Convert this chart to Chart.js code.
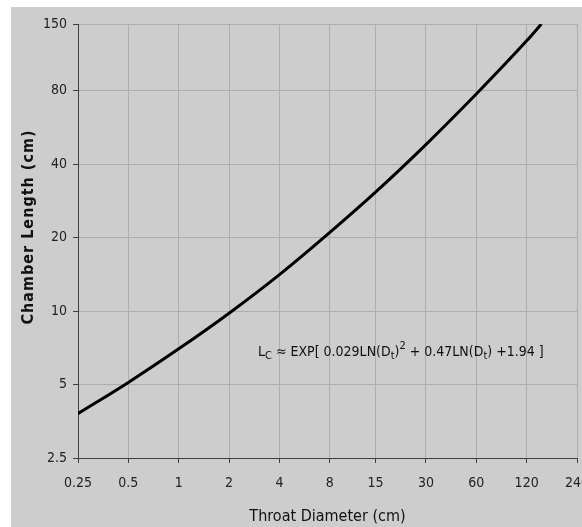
<!DOCTYPE html>
<html>
<head>
<meta charset="utf-8">
<script src="https://cdn.jsdelivr.net/npm/chart.js@4.4.1/dist/chart.umd.min.js"></script>
<style>
  html, body { margin: 0; padding: 0; background: #fff; overflow: hidden; }
  #wrap { position: absolute; left: 0; top: 0; width: 582px; height: 527px; }
</style>
</head>
<body>
<div id="wrap"><canvas id="myChart"></canvas></div>
<script>
// Data
const diameters = [0.25, 0.5, 1, 2, 4, 8, 15, 30, 60, 120, 147];
const lengths = [3.8, 5.1, 7.0, 9.8, 14.1, 21.0, 30.7, 48.1, 77.5, 128, 150];

// Tick labels
const xTicks = [0.25, 0.5, 1, 2, 4, 8, 15, 30, 60, 120, 240];
const yTicks = [2.5, 5, 10, 20, 40, 80, 150];

const FONT = "'DejaVu Sans Condensed', 'DejaVu Sans', sans-serif";
const GRID = "#adadad";
const AXIS = "#404040";

// grey panel, y title and the fitted equation
const decor = {
  id: "decor",
  beforeDraw(chart) {
    const c = chart.ctx;
    c.save();
    c.fillStyle = "#fff";
    c.fillRect(0, 0, chart.width, chart.height);
    c.fillStyle = "#cdcdcd";
    c.fillRect(11, 7, chart.width - 11, chart.height - 7);
    c.restore();
  },
  afterDraw(chart) {
    const c = chart.ctx;
    c.save();
    c.fillStyle = "#111";
    // y axis title
    c.translate(29, 227);
    c.rotate(-Math.PI / 2);
    c.font = "bold 16px " + FONT;
    c.letterSpacing = "1px";
    c.textAlign = "center";
    c.textBaseline = "middle";
    c.fillText("Chamber Length (cm)", 0, 0);
    c.restore();

    // equation
    c.save();
    c.fillStyle = "#111";
    c.textBaseline = "alphabetic";
    const big = "14px " + FONT, small = "11px " + FONT;
    const parts = [
      ["L", big, 0], ["C", small, 3], [" \u2248 EXP[ 0.029LN(D", big, 0], ["t", small, 3],
      [")", big, 0], ["2", small, -7], [" + 0.47LN(D", big, 0], ["t", small, 3],
      [") +1.94 ]", big, 0]
    ];
    let x = 258;
    const y = 356;
    for (const [t, f, dy] of parts) {
      c.font = f;
      c.fillText(t, x, y + dy);
      x += c.measureText(t).width;
    }
    c.restore();
  }
};

const ctx = document.getElementById("myChart").getContext("2d");
const myChart = new Chart(ctx, {
  type: "line",
  data: {
    datasets: [
      {
        data: diameters.map((d, i) => ({ x: d, y: lengths[i] })),
        borderColor: "#000",
        borderWidth: 3,
        pointRadius: 0,
        cubicInterpolationMode: "monotone",
        fill: false,
      },
    ],
  },
  options: {
    responsive: true,
    maintainAspectRatio: false,
    animation: false,
    layout: { padding: { left: 0, top: 24, right: 5, bottom: 0 } },
    plugins: {
      legend: { display: false },
      tooltip: { enabled: false },
    },
    scales: {
      x: {
        type: "logarithmic",
        min: 0.25,
        max: 240,
        afterBuildTicks: (s) => { s.ticks = xTicks.map((v) => ({ value: v })); },
        afterFit: (s) => { s.height = 69; s.paddingLeft = 0; s.paddingRight = 0; },
        ticks: {
          autoSkip: false,
          maxRotation: 0,
          padding: 12,
          color: "#222",
          font: { family: FONT, size: 14 },
          callback: (v) => String(v),
        },
        grid: { color: GRID, tickLength: 5, tickColor: AXIS },
        border: { color: AXIS, width: 1 },
        title: {
          display: true,
          text: "Throat Diameter (cm)",
          color: "#111",
          font: { family: FONT, size: 16 },
          padding: { top: 0, bottom: 1 },
        },
      },
      y: {
        type: "logarithmic",
        min: 2.5,
        max: 150,
        afterBuildTicks: (s) => { s.ticks = yTicks.map((v) => ({ value: v })); },
        afterFit: (s) => { s.width = 78; s.paddingTop = 0; s.paddingBottom = 0; },
        ticks: {
          autoSkip: false,
          padding: 6,
          color: "#222",
          font: { family: FONT, size: 14 },
          callback: (v) => String(v),
        },
        grid: { color: GRID, tickLength: 5, tickColor: AXIS },
        border: { color: AXIS, width: 1 },
      },
    },
  },
  plugins: [decor],
});
</script>
</body>
</html>
